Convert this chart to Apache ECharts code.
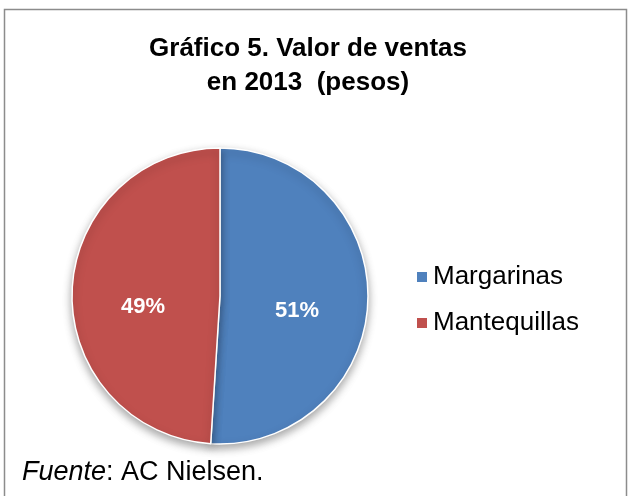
<!DOCTYPE html>
<html>
<head>
<meta charset="utf-8">
<script src="https://cdn.jsdelivr.net/npm/echarts@6/dist/echarts.min.js"></script>
<style>
html, body { margin: 0; padding: 0; background: #fff; }
#main { width: 630px; height: 496px; }
</style>
</head>
<body>
<div id="main"></div>
<script>
// datos del gráfico
var categorias = ['Margarinas', 'Mantequillas'];
var valores = [51, 49];
var colores = ['#4F81BD', '#C0504D'];

var chart = echarts.init(document.getElementById('main'));

var datos = categorias.map(function (c, i) {
  return { name: c, value: valores[i], itemStyle: { color: colores[i] } };
});

var option = {
  backgroundColor: '#fff',
  textStyle: { fontFamily: 'Liberation Sans, Arial, sans-serif' },
  title: [{
    text: 'Gráfico 5. Valor de ventas\nen 2013  (pesos)',
    left: 308,
    textAlign: 'center',
    top: 32,
    padding: 0,
    textStyle: { fontSize: 26, fontWeight: 'bold', color: '#000', lineHeight: 34 }
  }, {
    text: '{i|Fuente}: AC Nielsen.',
    left: 22,
    top: 459,
    padding: 0,
    textStyle: {
      fontSize: 27, fontWeight: 'normal', color: '#000',
      rich: { i: { fontSize: 27, fontStyle: 'italic', color: '#000' } }
    }
  }],
  legend: {
    orient: 'vertical',
    left: 415,
    top: 264,
    padding: 0,
    itemWidth: 12,
    itemHeight: 12,
    itemGap: 20,
    icon: 'rect',
    textStyle: { fontSize: 26, color: '#000' },
    data: categorias
  },
  graphic: [{
    type: 'rect',
    shape: { x: 4.5, y: 9.5, width: 622, height: 500 },
    style: { fill: 'none', stroke: '#8c8c8c', lineWidth: 1.5 },
    silent: true
  }],
  series: [{
    type: 'pie',
    center: [220, 296],
    radius: 148,
    startAngle: 90,
    clockwise: true,
    label: {
      show: true,
      position: 'inside',
      formatter: '{c}%',
      color: '#fff',
      fontSize: 22,
      fontWeight: 'bold'
    },
    labelLayout: { dy: 13 },
    labelLine: { show: false },
    itemStyle: {
      borderColor: '#fff',
      borderWidth: 1.5,
      shadowBlur: 8,
      shadowOffsetY: 4,
      shadowColor: 'rgba(0,0,0,0.35)'
    },
    emphasis: { disabled: true },
    data: datos
  }]
};

chart.setOption(option);
</script>
</body>
</html>
